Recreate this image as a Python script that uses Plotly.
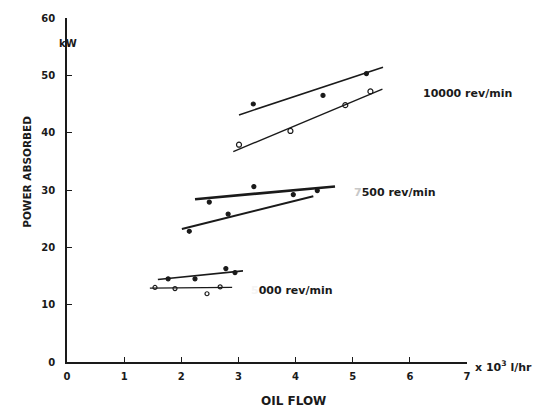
import plotly.graph_objects as go

# Oil flow (x 10^3 l/hr) vs power absorbed (kW) at three speeds

# 10000 rev/min
flow_10000_a = [3.26, 4.48, 5.24]
power_10000_a = [45.0, 46.5, 50.3]
fit_10000_a_x = [3.01, 5.53]
fit_10000_a_y = [43.1, 51.4]

flow_10000_b = [3.01, 3.91, 4.87, 5.31]
power_10000_b = [37.9, 40.3, 44.8, 47.2]
fit_10000_b_x = [2.91, 5.52]
fit_10000_b_y = [36.7, 47.6]

# 7500 rev/min
flow_7500_a = [2.49, 3.27, 3.96, 4.38]
power_7500_a = [27.9, 30.6, 29.2, 29.9]
fit_7500_a_x = [2.24, 4.69]
fit_7500_a_y = [28.4, 30.6]

flow_7500_b = [2.14, 2.82]
power_7500_b = [22.8, 25.8]
fit_7500_b_x = [2.01, 4.31]
fit_7500_b_y = [23.2, 28.9]

# 5000 rev/min
flow_5000_a = [1.77, 2.24, 2.78, 2.94]
power_5000_a = [14.5, 14.5, 16.3, 15.6]
fit_5000_a_x = [1.59, 3.08]
fit_5000_a_y = [14.4, 15.9]

flow_5000_b = [1.54, 1.89, 2.45, 2.68]
power_5000_b = [13.0, 12.8, 11.9, 13.1]
fit_5000_b_x = [1.45, 2.89]
fit_5000_b_y = [12.9, 13.0]

x_ticks = [0, 1, 2, 3, 4, 5, 6, 7]
x_tick_text = ["0", "1", "2", "3", "4", "5", "6", "7"]
y_ticks = [0, 10, 20, 30, 40, 50, 60]

INK = "#1a1a1a"


def font(size):
    return dict(family="DejaVu Sans", size=size, color=INK, weight="bold")


fig = go.Figure()


def fit_line(xs, ys, width):
    fig.add_trace(go.Scatter(x=xs, y=ys, mode="lines",
                             line=dict(color=INK, width=width),
                             showlegend=False, hoverinfo="skip"))


def points(xs, ys, symbol, size=5):
    fig.add_trace(go.Scatter(x=xs, y=ys, mode="markers",
                             marker=dict(symbol=symbol, size=size, color=INK,
                                         line=dict(color=INK, width=1.2)),
                             showlegend=False))


fit_line(fit_10000_a_x, fit_10000_a_y, 1.6)
fit_line(fit_10000_b_x, fit_10000_b_y, 1.4)
fit_line(fit_7500_a_x, fit_7500_a_y, 2.6)
fit_line(fit_7500_b_x, fit_7500_b_y, 2.0)
fit_line(fit_5000_a_x, fit_5000_a_y, 1.6)
fit_line(fit_5000_b_x, fit_5000_b_y, 1.2)

points(flow_10000_a, power_10000_a, "circle", 4)
points(flow_10000_b, power_10000_b, "circle-open", 5)
points(flow_7500_a, power_7500_a, "circle", 4)
points(flow_7500_b, power_7500_b, "circle", 4)
points(flow_5000_a, power_5000_a, "circle", 4)
points(flow_5000_b, power_5000_b, "circle-open", 4)

# speed labels
fig.add_annotation(x=6.2, y=46.9, text="10000 rev/min", showarrow=False,
                   xanchor="left", font=font(11))
fig.add_annotation(x=4.98, y=29.6, text="<span style='color:#c8c8c8'>7</span>500 rev/min",
                   showarrow=False, xanchor="left", font=font(11))
fig.add_annotation(x=3.18, y=12.4, text="<span style='color:#f4f4f4'>5</span>000 rev/min",
                   showarrow=False, xanchor="left", font=font(11))

# axis annotations
fig.add_annotation(xref="paper", x=-0.025, y=55.6, text="kW", showarrow=False, font=font(10))
fig.add_annotation(xref="paper", x=1.015, yref="paper", y=-0.04,
                   text="x 10<sup>3</sup> l/hr", showarrow=False, xanchor="left",
                   font=font(11))
fig.add_annotation(xref="paper", x=0.565, yref="paper", y=-0.112, yanchor="middle",
                   text="OIL FLOW", showarrow=False, font=font(12))
fig.add_annotation(xref="paper", x=-0.12, yref="paper", y=0.553, textangle=-90,
                   text="POWER ABSORBED", showarrow=False, font=font(10.5))

fig.update_xaxes(range=[0, 7], tickmode="array", tickvals=x_ticks, ticktext=x_tick_text,
                 ticks="inside", ticklen=5, tickwidth=1.2, tickcolor=INK,
                 showline=True, linecolor=INK, linewidth=1.5, showgrid=False,
                 zeroline=False, tickfont=font(10), ticklabelstandoff=4)
fig.update_yaxes(range=[0, 60], tickmode="array", tickvals=y_ticks,
                 ticks="inside", ticklen=5, tickwidth=1.2, tickcolor=INK,
                 showline=True, linecolor=INK, linewidth=1.5, showgrid=False,
                 zeroline=False, tickfont=font(10), ticklabelstandoff=8)

fig.update_layout(width=542, height=412, margin=dict(l=67, r=75, t=15, b=50),
                  plot_bgcolor="white", paper_bgcolor="white")

fig.write_html("out.html")
